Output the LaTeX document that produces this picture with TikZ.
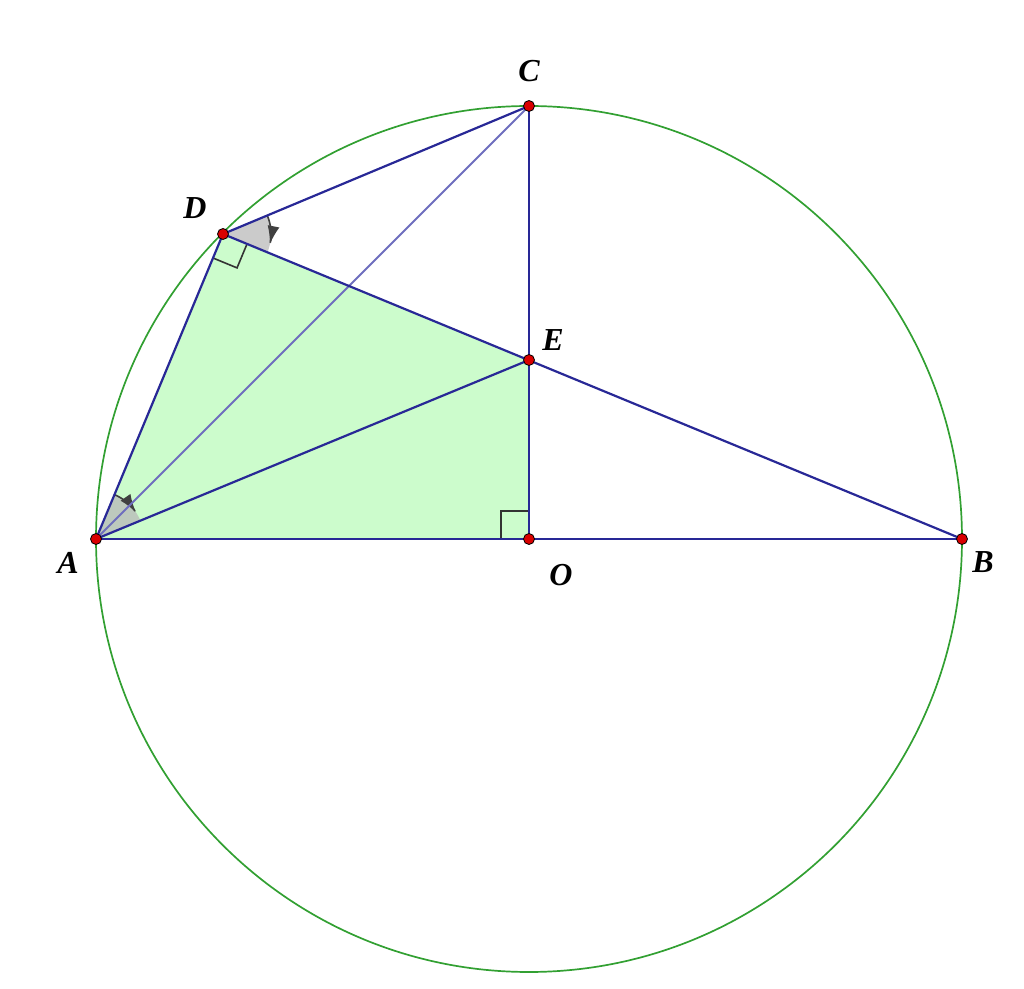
\documentclass[tikz,border=0pt]{standalone}
\usepackage{fontspec}
\setmainfont{Liberation Serif}
\usetikzlibrary{arrows.meta,calc}
\definecolor{navy}{RGB}{40,40,150}
\definecolor{lightnavy}{RGB}{110,110,190}
\definecolor{circgreen}{RGB}{50,160,50}
\definecolor{fillgreen}{RGB}{204,252,204}
\definecolor{anglegray}{RGB}{185,185,185}
\tikzset{
  seg/.style={draw=navy, line width=1.1pt},
  thinseg/.style={draw=lightnavy, line width=0.9pt},
  rmark/.style={draw=black!80, line width=0.8pt},
  ptdot/.style={circle, fill=red!85!black, draw=black, line width=0.4pt, inner sep=0pt, minimum size=5.5pt},
  lbl/.style={font=\fontsize{16}{16}\selectfont\bfseries\itshape, inner sep=0pt},
  angfill/.style={fill=anglegray, fill opacity=0.75, draw=none},
  angarrow/.style={draw=black!75, line width=0.8pt, -{Latex[length=9pt,width=6pt]}}
}
\begin{document}
\begin{tikzpicture}[x=0.5pt,y=-0.5pt]
\useasboundingbox (0,0) rectangle (1024,989);
\coordinate (O) at (529,539);
\coordinate (A) at (96,539);
\coordinate (B) at (962,539);
\coordinate (C) at (529,106);
\coordinate (D) at (223,234);
\coordinate (E) at (529,360);
% green region
\fill[fillgreen] (A) -- (D) -- (E) -- (O) -- cycle;
% angle at A (between AE and AD)
\fill[angfill] (A) -- plot[domain=22.5:67.4, samples=30] ({96+48*cos(\x)},{539-48*sin(\x)}) -- cycle;
\draw[angarrow] plot[domain=67.4:34, samples=20, smooth] ({96+48*cos(\x)},{539-48*sin(\x)});
% angle at D (between DC and DE)
\fill[angfill] (D) -- plot[domain=22.7:-22.4, samples=30] ({223+48*cos(\x)},{234-48*sin(\x)}) -- cycle;
\draw[angarrow] plot[domain=22.7:-12, samples=20, smooth] ({223+48*cos(\x)},{234-48*sin(\x)});
% right angle marks
\draw[rmark] ($(D)!13pt!(A)$) -- ($(D)!13pt!(A)+(D)!13pt!(E)-(D)$) -- ($(D)!13pt!(E)$);
\draw[rmark] ($(O)!14pt!(A)$) -- ($(O)!14pt!(A)+(O)!14pt!(C)-(O)$) -- ($(O)!14pt!(C)$);
% circle
\draw[circgreen, line width=0.85pt] (O) circle[radius=216.5pt];
% segments
\draw[thinseg] (A) -- (C);
\draw[seg] (A) -- (B);
\draw[seg] (A) -- (D);
\draw[seg] (D) -- (C);
\draw[seg] (C) -- (O);
\draw[seg] (D) -- (B);
\draw[seg] (A) -- (E);
% points
\foreach \p in {A,B,C,D,E,O} \node[ptdot] (dot\p) at (\p) {};
% labels
\node[lbl] (lA) at (68,563) {A};
\node[lbl] (lB) at (983,562) {B};
\node[lbl] (lC) at (529,71) {C};
\node[lbl] (lD) at (195,208) {D};
\node[lbl] (lE) at (553,340) {E};
\node[lbl] (lO) at (561,575) {O};
\end{tikzpicture}
\end{document}
